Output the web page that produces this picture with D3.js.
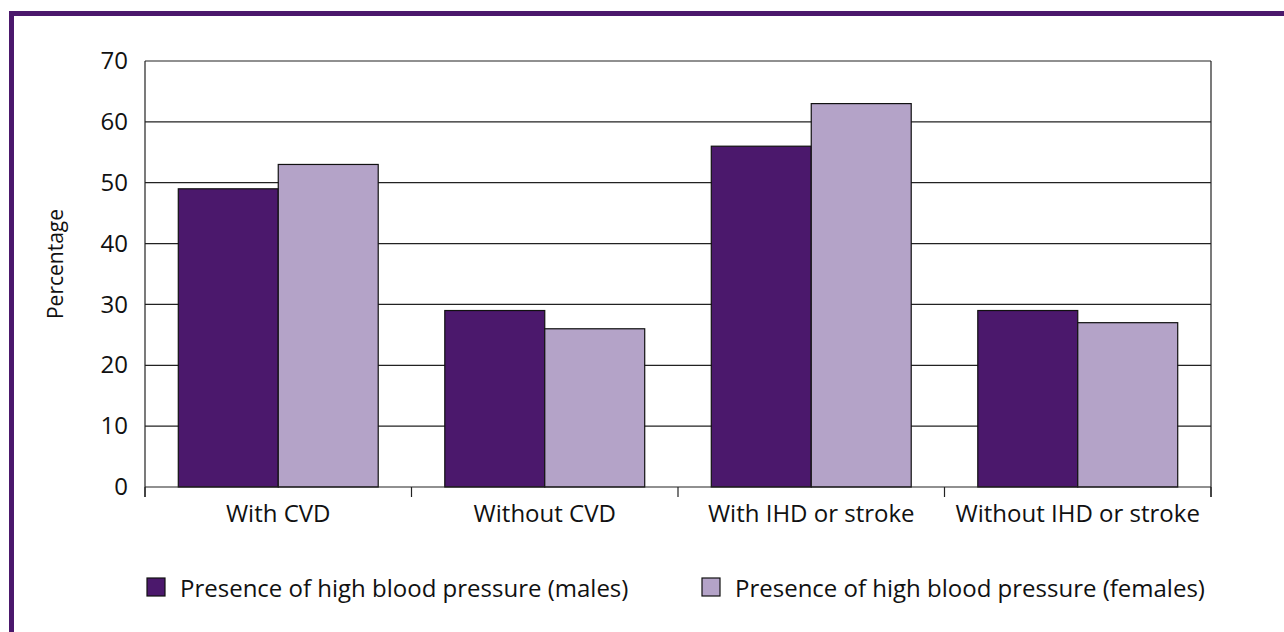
<!DOCTYPE html>
<html>
<head>
<meta charset="utf-8">
<script src="https://cdn.jsdelivr.net/npm/d3@7"></script>
<style>
  body { margin: 0; background: #fff; }
  text { font-family: "Open Sans", sans-serif; fill: #111; }
</style>
</head>
<body>
<div class="chart"></div>
<script>
var categories = ["With CVD", "Without CVD", "With IHD or stroke", "Without IHD or stroke"];
var seriesNames = ["Presence of high blood pressure (males)", "Presence of high blood pressure (females)"];
var males = [49, 29, 56, 29];
var females = [53, 26, 63, 27];
var yTicks = [0, 10, 20, 30, 40, 50, 60, 70];

var colors = ["#4b186c", "#b4a3c8"];

var W = 1284, H = 632;
var pLeft = 145, pRight = 1211, pTop = 61, pBottom = 487;

var svg = d3.select('.chart').append('svg').attr('width', W).attr('height', H);

// purple frame, top and left
svg.append('rect').attr('x', 9).attr('y', 11).attr('width', W - 9).attr('height', 5).attr('fill', '#4b186c');
svg.append('rect').attr('x', 9).attr('y', 11).attr('width', 5).attr('height', H - 11).attr('fill', '#4b186c');

var x = d3.scaleBand().domain(categories).range([pLeft, pRight]).paddingInner(0).paddingOuter(0);
var x1 = d3.scaleBand().domain([0, 1]).range([0, x.bandwidth()]).paddingInner(0).paddingOuter(0.333);
var y = d3.scaleLinear().domain([0, 70]).range([pBottom, pTop]);

// gridlines
svg.append('g').selectAll('line').data(yTicks.slice(1)).enter().append('line')
  .attr('x1', pLeft).attr('x2', pRight)
  .attr('y1', function(d){ return y(d); }).attr('y2', function(d){ return y(d); })
  .attr('stroke', '#222').attr('stroke-width', 1.2);

// right border
svg.append('line').attr('x1', pRight).attr('x2', pRight).attr('y1', pTop).attr('y2', pBottom + 10)
  .attr('stroke', '#222').attr('stroke-width', 1.2);

// bars
var rows = categories.map(function(c, i){ return {cat: c, vals: [males[i], females[i]]}; });
var groups = svg.append('g').selectAll('g').data(rows).enter().append('g')
  .attr('transform', function(d){ return 'translate(' + x(d.cat) + ',0)'; });
groups.selectAll('rect').data(function(d){ return d.vals; }).enter().append('rect')
  .attr('x', function(d, i){ return x1(i); })
  .attr('width', x1.bandwidth())
  .attr('y', function(d){ return y(d); })
  .attr('height', function(d){ return pBottom - y(d); })
  .attr('fill', function(d, i){ return colors[i]; })
  .attr('stroke', '#111').attr('stroke-width', 1.2);

// y axis
var yAxis = svg.append('g').attr('transform', 'translate(' + pLeft + ',0)')
  .call(d3.axisLeft(y).tickValues(yTicks).tickSize(0).tickPadding(17));
yAxis.select('.domain').remove();
yAxis.selectAll('text').style('font-size', '24px').style('font-family', '"Open Sans", sans-serif').attr('fill', '#111');
svg.append('line').attr('x1', pLeft).attr('x2', pLeft).attr('y1', pTop).attr('y2', pBottom + 10)
  .attr('stroke', '#222').attr('stroke-width', 1.2);

// x axis
svg.append('line').attr('x1', pLeft).attr('x2', pRight).attr('y1', pBottom).attr('y2', pBottom)
  .attr('stroke', '#222').attr('stroke-width', 1.2);
var bounds = categories.map(function(c){ return x(c); }).concat([pRight]);
svg.append('g').selectAll('line').data(bounds).enter().append('line')
  .attr('x1', function(d){ return d; }).attr('x2', function(d){ return d; })
  .attr('y1', pBottom).attr('y2', pBottom + 10)
  .attr('stroke', '#222').attr('stroke-width', 1.2);
svg.append('g').selectAll('text').data(categories).enter().append('text')
  .attr('x', function(d){ return x(d) + x.bandwidth() / 2; })
  .attr('y', 522)
  .attr('text-anchor', 'middle')
  .style('font-size', '24px')
  .text(function(d){ return d; });

// y label
svg.append('text').attr('transform', 'translate(63,264) rotate(-90)')
  .attr('text-anchor', 'middle').style('font-size', '21px').text('Percentage');

// legend
var legX = [147, 702];
var leg = svg.append('g').selectAll('g').data(seriesNames).enter().append('g')
  .attr('transform', function(d, i){ return 'translate(' + legX[i] + ',578)'; });
leg.append('rect').attr('width', 18).attr('height', 18)
  .attr('fill', function(d, i){ return colors[i]; })
  .attr('stroke', '#111').attr('stroke-width', 1.2);
leg.append('text').attr('x', 33).attr('y', 19).style('font-size', '24px').text(function(d){ return d; });
</script>
</body>
</html>
